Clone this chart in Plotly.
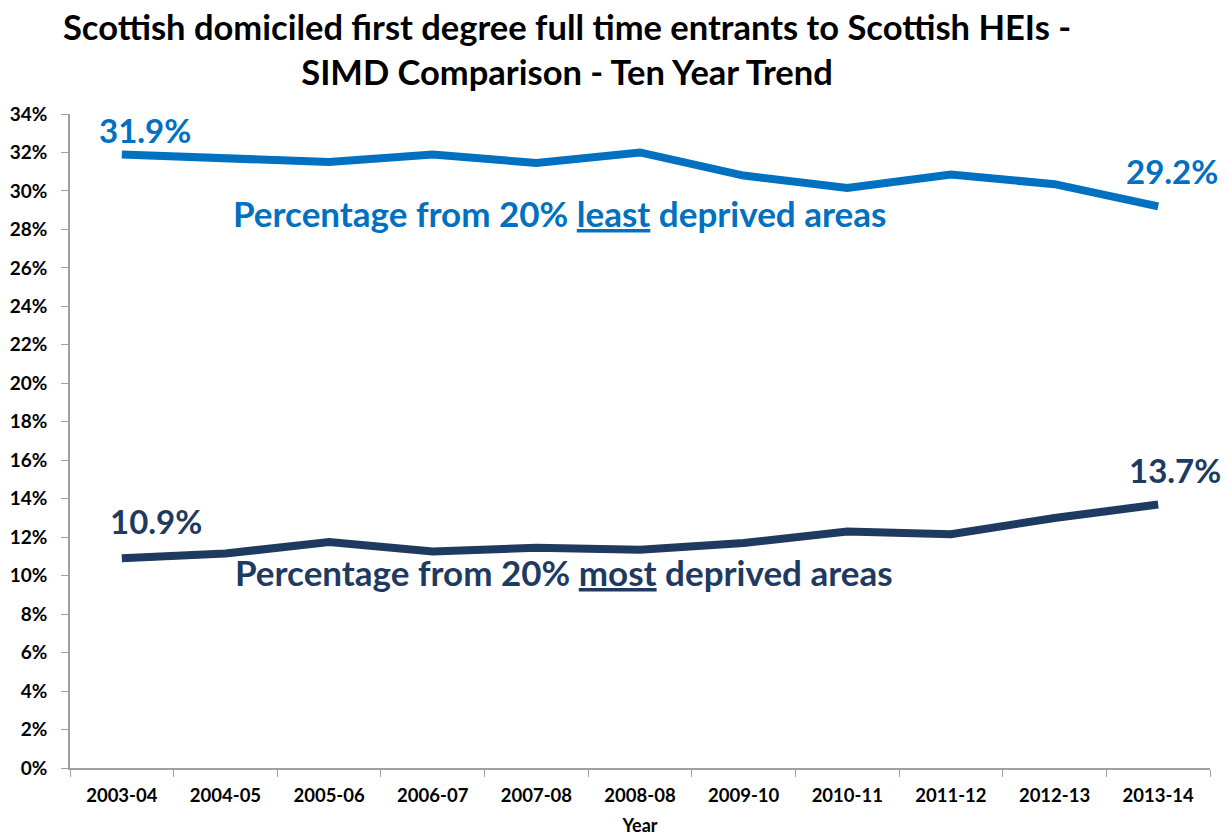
import plotly.graph_objects as go

years = ["2003-04", "2004-05", "2005-06", "2006-07", "2007-08", "2008-08",
         "2009-10", "2010-11", "2011-12", "2012-13", "2013-14"]
least_deprived = [31.9, 31.7, 31.5, 31.9, 31.45, 32.0, 30.8, 30.15, 30.85, 30.35, 29.2]
most_deprived = [10.9, 11.15, 11.75, 11.25, 11.45, 11.35, 11.7, 12.3, 12.15, 13.0, 13.7]
y_ticks = list(range(0, 35, 2))

BLUE = "#0070C0"
NAVY = "#1F3A60"
FONT = "Lato"

fig = go.Figure()
fig.add_trace(go.Scatter(x=years, y=least_deprived, mode="lines",
                         line=dict(color=BLUE, width=8), showlegend=False))
fig.add_trace(go.Scatter(x=years, y=most_deprived, mode="lines",
                         line=dict(color=NAVY, width=8), showlegend=False))

# end-point value labels
VS = 33
fig.add_annotation(x=years[0], y=least_deprived[0], text=f"<b>{least_deprived[0]:.1f}%</b>",
                   showarrow=False, yshift=24, xshift=23, font=dict(size=VS, color=BLUE, family=FONT))
fig.add_annotation(x=years[-1], y=least_deprived[-1], text=f"<b>{least_deprived[-1]:.1f}%</b>",
                   showarrow=False, yshift=35, xshift=14, font=dict(size=VS, color=BLUE, family=FONT))
fig.add_annotation(x=years[0], y=most_deprived[0], text=f"<b>{most_deprived[0]:.1f}%</b>",
                   showarrow=False, yshift=37, xshift=34, font=dict(size=VS, color=NAVY, family=FONT))
fig.add_annotation(x=years[-1], y=most_deprived[-1], text=f"<b>{most_deprived[-1]:.1f}%</b>",
                   showarrow=False, yshift=34, xshift=17, font=dict(size=VS, color=NAVY, family=FONT))

# series labels
LS = 35
fig.add_annotation(x=0.5, y=28.85, xref="x", yref="y", xanchor="left",
                   text="<b>Percentage from 20% <u>least</u> deprived areas</b>",
                   showarrow=False, xshift=57, font=dict(size=LS, color=BLUE, family=FONT))
fig.add_annotation(x=0.5, y=10.2, xref="x", yref="y", xanchor="left",
                   text="<b>Percentage from 20% <u>most</u> deprived areas</b>",
                   showarrow=False, xshift=59, font=dict(size=LS, color=NAVY, family=FONT))

# title
fig.add_annotation(x=0.436, y=1, xref="paper", yref="paper", xanchor="center", yanchor="middle",
                   yshift=65, showarrow=False, align="center",
                   text="<b>Scottish domiciled first degree full time entrants to Scottish HEIs -<br>SIMD Comparison - Ten Year Trend</b>",
                   font=dict(size=34.5, color="black", family=FONT))

fig.update_layout(
    width=1228, height=838,
    margin=dict(l=70, r=18, t=114, b=70),
    paper_bgcolor="white", plot_bgcolor="white",
    font=dict(family=FONT, color="black"),
    xaxis=dict(type="category", range=[-0.5, 10.5], tickson="boundaries",
               showline=True, linecolor="#A0A0A0", linewidth=1.5,
               ticks="outside", ticklen=7, tickcolor="#A0A0A0",
               showgrid=False, zeroline=False, ticklabelstandoff=10, automargin=False,
               tickfont=dict(size=18.5, color="black", family=FONT),
               title=dict(text="<b>Year</b>", font=dict(size=18, color="black", family=FONT), standoff=14)),
    yaxis=dict(range=[0, 34], tickvals=y_ticks, ticktext=[f"<b>{v}%</b>" for v in y_ticks],
               showline=True, linecolor="#A0A0A0", linewidth=1.5,
               ticks="outside", ticklen=7, tickcolor="#A0A0A0",
               showgrid=False, zeroline=False, ticklabelstandoff=10, automargin=False,
               tickfont=dict(size=19, color="black", family=FONT)),
)
fig.update_xaxes(tickvals=years, ticktext=[f"<b>{y}</b>" for y in years])

fig.write_html("out.html")
